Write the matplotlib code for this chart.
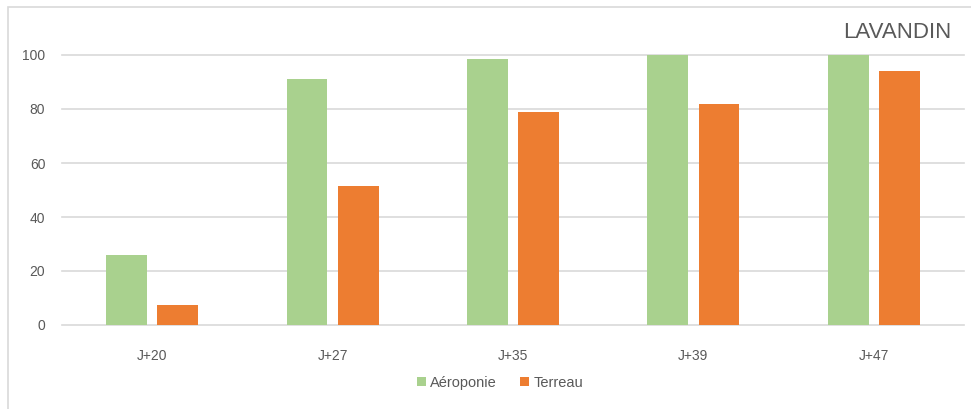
import numpy as np
from matplotlib import pyplot as plt
from matplotlib.patches import Rectangle

categories = ["J+20", "J+27", "J+35", "J+39", "J+47"]
aeroponie = [26, 91, 98.7, 100, 100]
terreau = [7.4, 51.5, 78.8, 81.8, 94]
yticks = [0, 20, 40, 60, 80, 100]

GREEN = "#A9D18E"
ORANGE = "#ED7D31"
TEXT = "#595959"
GRID = "#D9D9D9"

plt.rcParams["font.family"] = ["Liberation Sans Narrow", "Liberation Sans", "DejaVu Sans"]

fig = plt.figure(figsize=(9.71, 4.09), dpi=100)
ax = fig.add_axes([62 / 971, 1 - 325 / 409, 902 / 971, 270 / 409])

x = np.arange(len(categories))
w = 0.227
off = 0.142
ax.bar(x - off, aeroponie, w, color=GREEN, label="Aéroponie", zorder=3, clip_on=False)
ax.bar(x + off, terreau, w, color=ORANGE, label="Terreau", zorder=3, clip_on=False)

ax.set_xlim(-0.5, len(categories) - 0.5)
ax.set_ylim(0, 100)
ax.set_yticks(yticks)
ax.set_xticks(x)
ax.set_xticklabels(categories)
ax.yaxis.grid(True, color=GRID, linewidth=1.2, zorder=0)
for gl in ax.get_ygridlines():
    gl.set_clip_on(False)
ax.tick_params(length=0, labelsize=10, labelcolor=TEXT)
ax.tick_params(axis="x", pad=17)
ax.tick_params(axis="y", pad=12)
for s in ax.spines.values():
    s.set_visible(False)
for lab in ax.get_yticklabels():
    lab.set_fontfamily(["Liberation Sans", "DejaVu Sans"])
    lab.set_fontsize(10)

ax.legend(loc="center", bbox_to_anchor=(500 / 971, 1 - 383 / 409),
          bbox_transform=fig.transFigure, ncol=2, frameon=False,
          fontsize=10.5, labelcolor=TEXT, handlelength=0.6, handleheight=0.6,
          handletextpad=0.3, columnspacing=1.6)

fig.text(951 / 971, 1 - 32 / 409, "LAVANDIN", ha="right", va="center",
         fontsize=16, color=TEXT)

# bordure du cadre
fig.patches.append(Rectangle((8 / 971, -0.1), 1.2, (1 - 7 / 409) + 0.1,
                             transform=fig.transFigure, fill=False,
                             edgecolor=GRID, linewidth=1.2))

fig.savefig("out.png", dpi=100)
